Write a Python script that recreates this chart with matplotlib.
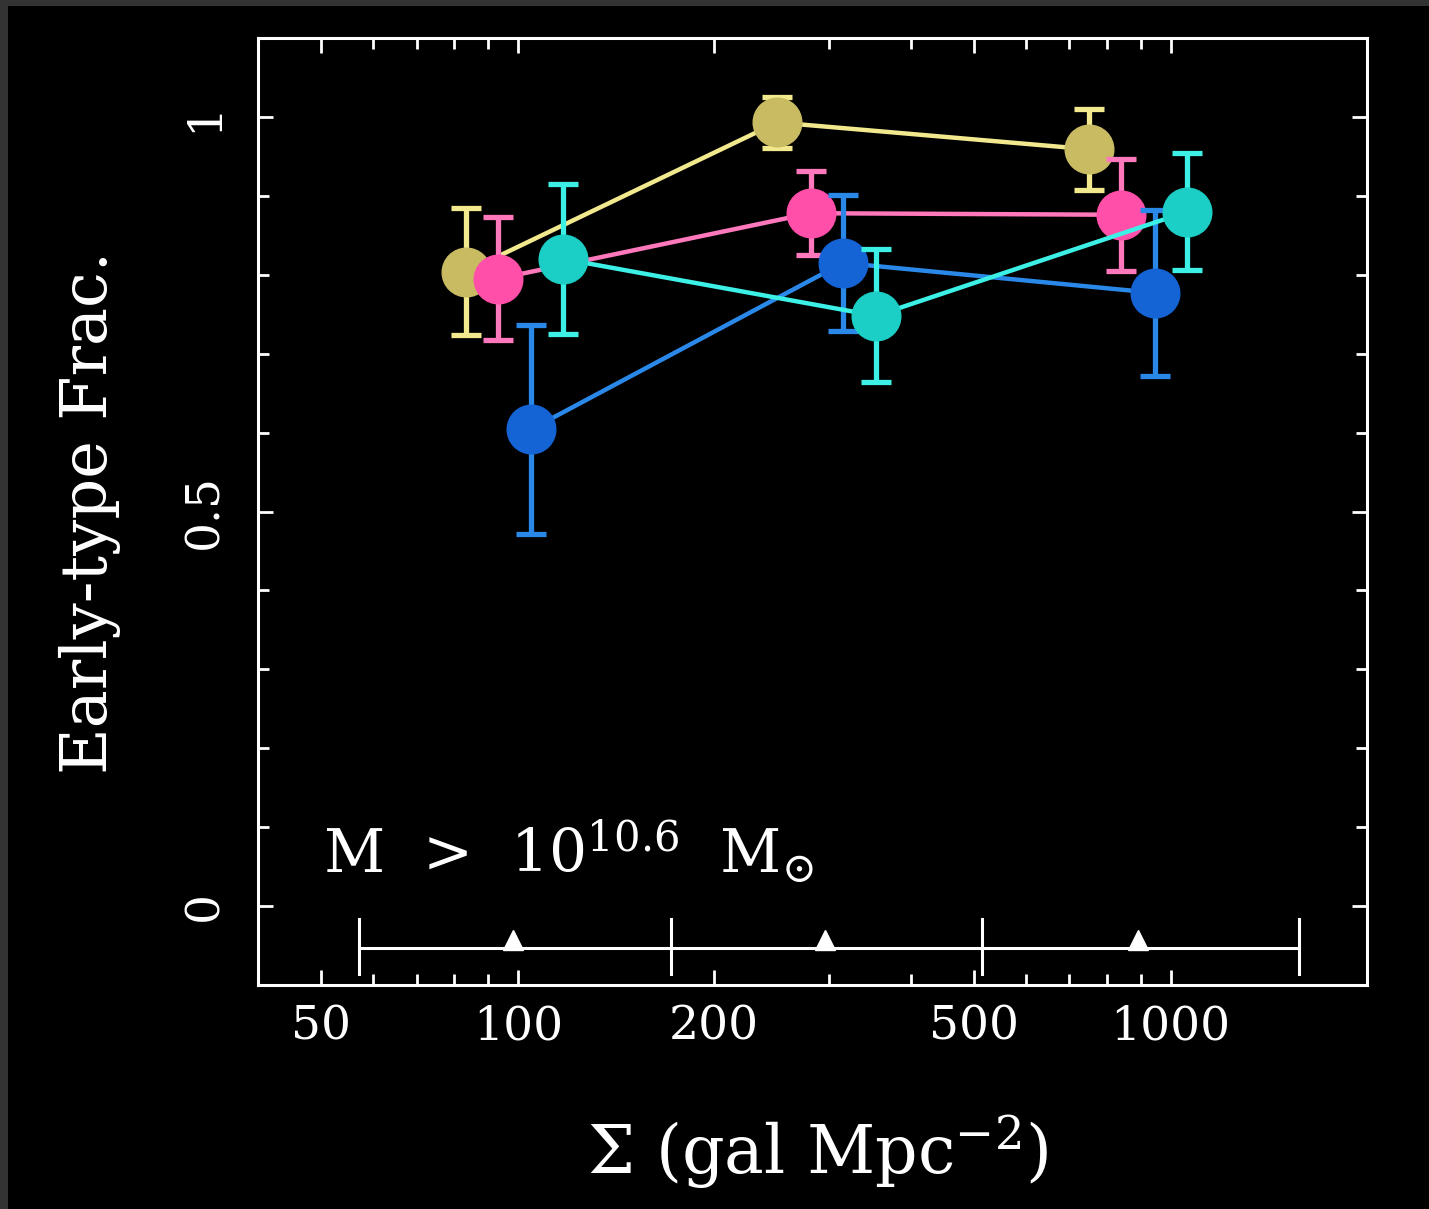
import matplotlib
matplotlib.use("Agg")
import matplotlib.pyplot as plt
from matplotlib.patches import Rectangle
import numpy as np

plt.rcParams['font.family'] = ['DejaVu Serif']
plt.rcParams['mathtext.fontset'] = 'dejavuserif'

# data
yellow_x = [83.4, 249.7, 750.0]
yellow_y = [0.804, 0.993, 0.959]
yellow_e = [0.080, 0.032, 0.051]

pink_x = [93.3, 281.0, 841.0]
pink_y = [0.795, 0.878, 0.876]
pink_e = [0.078, 0.053, 0.071]

blue_x = [104.8, 315.0, 947.0]
blue_y = [0.604, 0.815, 0.777]
blue_e = [0.132, 0.086, 0.105]

cyan_x = [117.5, 354.0, 1061.0]
cyan_y = [0.820, 0.748, 0.880]
cyan_e = [0.095, 0.084, 0.074]

bin_edges = [57.1, 171.5, 515.0, 1573.0]
bin_mids = [98.5, 296.0, 891.0]
bin_level = -0.053

xtick_vals = [50, 100, 200, 500, 1000]
xtick_labels = ["50", "100", "200", "500", "1000"]
ytick_vals = [0, 0.5, 1]
ytick_labels = ["0", "0.5", "1"]

W, H = 1429, 1209
fig = plt.figure(figsize=(W / 100, H / 100), dpi=100, facecolor='black')
# gray frame strips
fig.patches.append(Rectangle((0, 1 - 6 / H), 1, 6 / H, transform=fig.transFigure,
                             facecolor='#333333', edgecolor='none', zorder=0))
fig.patches.append(Rectangle((0, 0), 8 / W, 1, transform=fig.transFigure,
                             facecolor='#333333', edgecolor='none', zorder=0))

ax = fig.add_axes([258 / W, (H - 985) / H, (1367 - 258) / W, (985 - 38) / H])
ax.set_facecolor('black')
ax.set_xscale('log')
ax.set_xlim(40, 2000)
ax.set_ylim(-0.1, 1.1)

series = [
    (yellow_x, yellow_y, yellow_e, '#c9bb62', '#f2e98e'),
    (pink_x, pink_y, pink_e, '#ff4fa8', '#ff78bc'),
    (blue_x, blue_y, blue_e, '#1464d6', '#2a88e8'),
    (cyan_x, cyan_y, cyan_e, '#1ccfc6', '#3cf0e6'),
]
for i, (xs, ys, es, fc, lc) in enumerate(series):
    ax.errorbar(xs, ys, yerr=es, color=lc, lw=3.2, elinewidth=3.8, capsize=10.5,
                capthick=3.8, marker='o', markersize=35, markerfacecolor=fc,
                markeredgecolor=fc, zorder=3 + i)

# bin bar
ax.plot([bin_edges[0], bin_edges[-1]], [bin_level, bin_level], color='white', lw=2.2, zorder=2)
for e in bin_edges:
    ax.plot([e, e], [bin_level - 0.033, bin_level + 0.037], color='white', lw=2.2, zorder=2)
ax.plot(bin_mids, [bin_level + 0.01] * 3, linestyle='none', marker='^', markersize=14,
        color='white', zorder=2)

# ticks
ax.set_xticks(xtick_vals)
ax.set_xticklabels(xtick_labels)
ax.set_xticks([60, 70, 80, 90, 300, 400, 600, 700, 800, 900], minor=True)
ax.xaxis.set_minor_formatter(matplotlib.ticker.NullFormatter())
ax.set_yticks(ytick_vals)
ax.set_yticklabels(ytick_labels, rotation=90, va='center')
ax.set_yticks(np.arange(0, 1.01, 0.1), minor=True)
ax.tick_params(axis='both', which='both', direction='in', color='white', width=2,
               top=True, right=True, labelcolor='white', labelsize=34)
ax.tick_params(axis='both', which='major', length=11)
ax.tick_params(axis='both', which='minor', length=8)
ax.tick_params(axis='x', which='major', pad=14)
ax.tick_params(axis='y', which='major', pad=22)
for s in ax.spines.values():
    s.set_color('white')
    s.set_linewidth(2.2)

# labels
fig.text(90 / W, 1 - 512 / H, 'Early-type Frac.', rotation=90, color='white',
         fontsize=46, ha='center', va='center')
fig.text(818 / W, 1 - 1152 / H, r'$\Sigma$ (gal Mpc$^{-2}$)', color='white',
         fontsize=48, ha='center', va='center')
ax.text(0.059, 0.118, r'M  >  10$^{10.6}$  M$_{\odot}$', transform=ax.transAxes,
        color='white', fontsize=43, ha='left', va='baseline')

fig.savefig('out.png', dpi=100, facecolor='black')
